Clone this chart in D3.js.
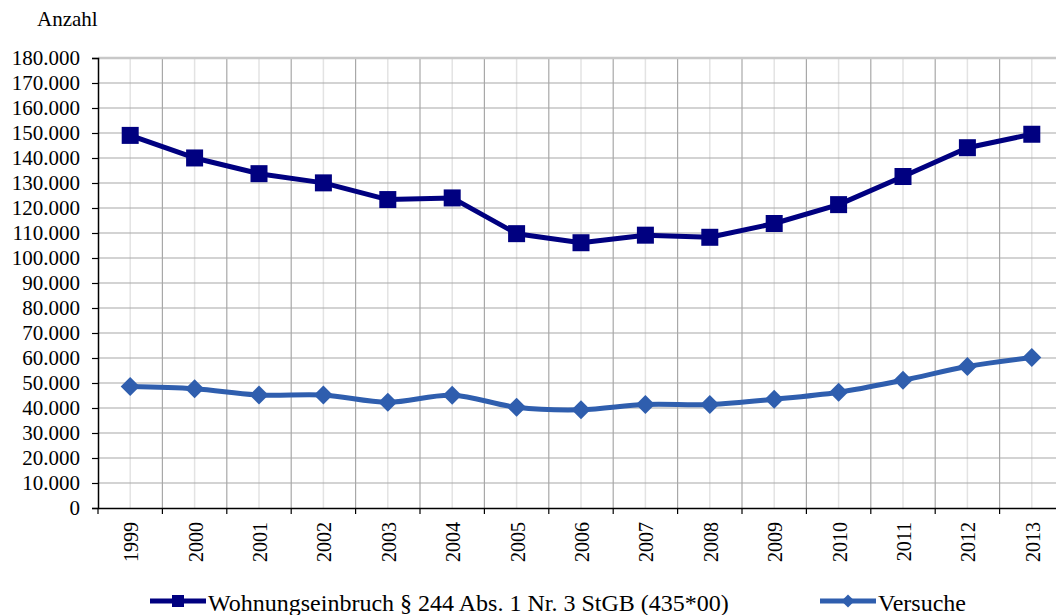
<!DOCTYPE html>
<html><head><meta charset="utf-8">
<script src="https://cdn.jsdelivr.net/npm/d3@7"></script>
<style>body{margin:0;background:#fff}svg{display:block}text{font-family:"Liberation Serif","Times New Roman",serif;fill:#000}</style>
</head><body><svg id="c" width="1056" height="615"></svg>
<script>
const years = ["1999","2000","2001","2002","2003","2004","2005","2006","2007","2008","2009","2010","2011","2012","2013"];
const einbruch = [149044,140015,133732,130055,123373,124030,109736,106107,109128,108284,113800,121347,132595,144117,149500];
const versuche = [48600,47700,45200,45200,42300,45100,40300,39300,41400,41400,43500,46300,51100,56600,60200];
const yTicks = d3.range(0,180001,10000);
const seriesNames = ["Wohnungseinbruch § 244 Abs. 1 Nr. 3 StGB (435*00)","Versuche"];

const svg = d3.select("#c");
const L = 98, T = 58, B = 508, bw = 64.4;
const x = d3.scaleBand().domain(years).range([L, L + bw*years.length]);
const y = d3.scaleLinear().domain([0,180000]).range([B, T]);
const fmt = v => d3.format(",")(v).replace(/,/g,".");

// minor vertical gridlines at category centers
svg.append("g").selectAll("line").data(years).join("line")
  .attr("x1", d=>x(d)+x.bandwidth()/2).attr("x2", d=>x(d)+x.bandwidth()/2)
  .attr("y1", T).attr("y2", B).attr("stroke","#e3e3e3").attr("stroke-width",1.5);
// major vertical gridlines at boundaries
svg.append("g").selectAll("line").data(years.slice(1)).join("line")
  .attr("x1", d=>x(d)).attr("x2", d=>x(d))
  .attr("y1", T).attr("y2", B).attr("stroke","#a8a8a8").attr("stroke-width",1.2);
// horizontal gridlines
svg.append("g").selectAll("line").data(yTicks.slice(1)).join("line")
  .attr("x1", L).attr("x2", 1056)
  .attr("y1", d=>y(d)).attr("y2", d=>y(d))
  .attr("stroke", d=> d===180000 ? "#c8c8c8" : "#a8a8a8").attr("stroke-width", d=> d===180000 ? 2.5 : 1.2);

// y axis
const ya = svg.append("g").attr("transform",`translate(${L},0)`)
  .call(d3.axisLeft(y).tickValues(yTicks).tickFormat(fmt).tickSize(6).tickPadding(12));
ya.select(".domain").attr("stroke","#000").attr("stroke-width",1.5);
ya.selectAll(".tick line").attr("stroke","#000").attr("stroke-width",1.2);
ya.selectAll("text").style("font-size","21px").style("font-family",'"Liberation Serif",serif').attr("fill","#000");

// x axis
const xa = svg.append("g").attr("transform",`translate(0,${B})`)
  .call(d3.axisBottom(x).tickSize(0).tickFormat(""));
xa.select(".domain").attr("stroke","#000").attr("stroke-width",1.5);
xa.selectAll(".tick").remove();
svg.append("g").selectAll("line").data(years.concat(["end"])).join("line")
  .attr("x1",(d,i)=>L+i*bw).attr("x2",(d,i)=>L+i*bw)
  .attr("y1",B).attr("y2",B+6).attr("stroke","#000").attr("stroke-width",1.2);
svg.append("g").selectAll("text").data(years).join("text")
  .attr("transform", d=>`translate(${x(d)+x.bandwidth()/2+8},${B+14}) rotate(-90)`)
  .attr("text-anchor","end").style("font-size","20px").text(d=>d);

svg.append("text").attr("x",37).attr("y",26).style("font-size","21px").text("Anzahl");

const cx = d => x(d)+x.bandwidth()/2;
const c1 = "#000080", c2 = "#2f5eae";
// series 1
svg.append("path").datum(einbruch)
  .attr("d", d3.line().x((d,i)=>cx(years[i])).y(d=>y(d)))
  .attr("fill","none").attr("stroke",c1).attr("stroke-width",5).attr("stroke-linejoin","round");
svg.append("g").selectAll("rect").data(einbruch).join("rect")
  .attr("x",(d,i)=>cx(years[i])-8.5).attr("y",d=>y(d)-8.5).attr("width",17).attr("height",17).attr("fill",c1);
// series 2
svg.append("path").datum(versuche)
  .attr("d", d3.line().x((d,i)=>cx(years[i])).y(d=>y(d)).curve(d3.curveCatmullRom.alpha(0.5)))
  .attr("fill","none").attr("stroke",c2).attr("stroke-width",5).attr("stroke-linejoin","round");
const dia = d3.symbol().type(d3.symbolDiamond2).size(230);
svg.append("g").selectAll("path").data(versuche).join("path")
  .attr("transform",(d,i)=>`translate(${cx(years[i])},${y(d)})`).attr("d",dia).attr("fill",c2);

// legend
const lg = [{x:150, c:c1, t:"sq", name:seriesNames[0]},{x:820, c:c2, t:"di", name:seriesNames[1]}];
const ly = 601;
lg.forEach(l=>{
  svg.append("line").attr("x1",l.x).attr("x2",l.x+56).attr("y1",ly).attr("y2",ly).attr("stroke",l.c).attr("stroke-width",5);
  if(l.t==="sq") svg.append("rect").attr("x",l.x+22).attr("y",ly-6).attr("width",12).attr("height",12).attr("fill",l.c);
  else svg.append("path").attr("transform",`translate(${l.x+28},${ly})`).attr("d",d3.symbol().type(d3.symbolDiamond2).size(110)).attr("fill",l.c);
  svg.append("text").attr("x",l.x+58).attr("y",611).style("font-size","24px").text(l.name);
});
</script></body></html>
